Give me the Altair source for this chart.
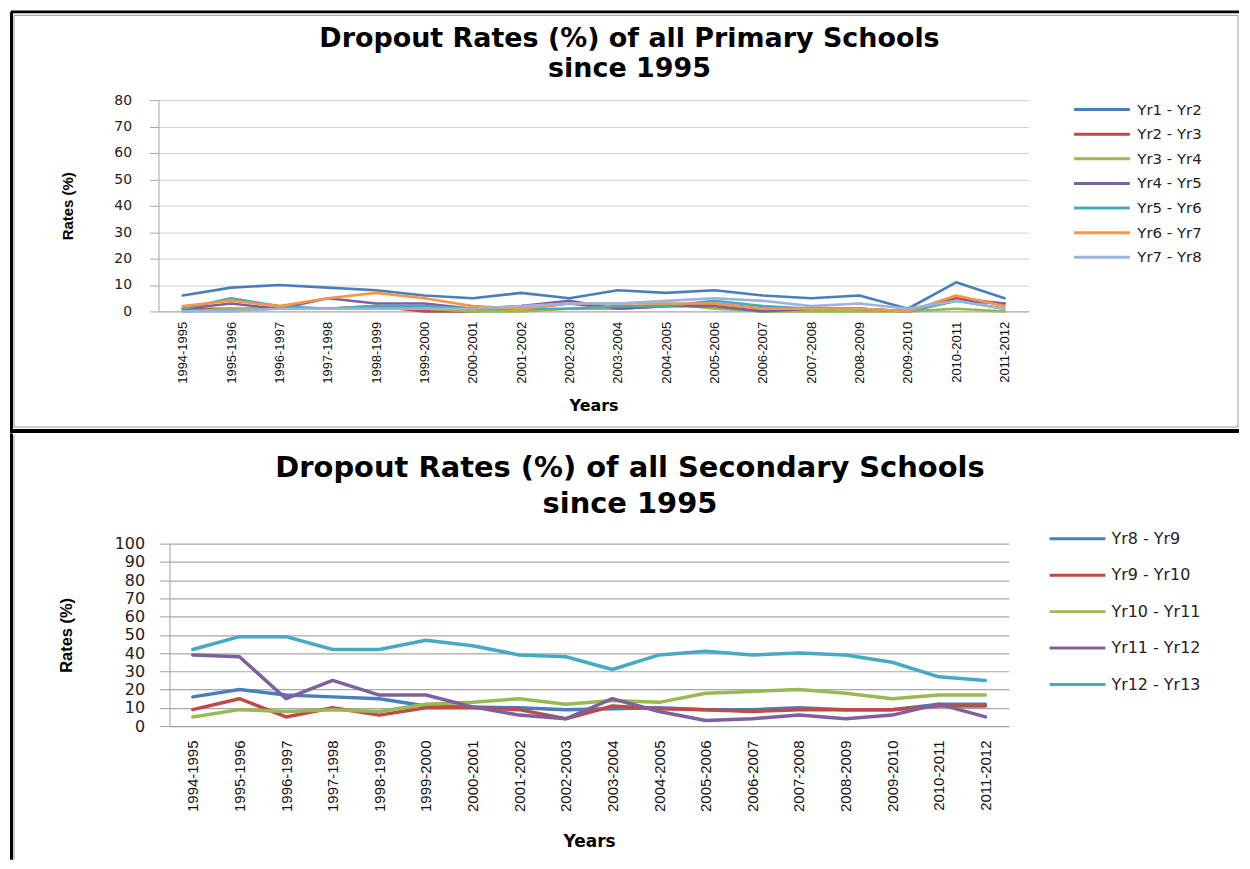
import altair as alt
import pandas as pd

years = ["1994-1995", "1995-1996", "1996-1997", "1997-1998", "1998-1999", "1999-2000",
         "2000-2001", "2001-2002", "2002-2003", "2003-2004", "2004-2005", "2005-2006",
         "2006-2007", "2007-2008", "2008-2009", "2009-2010", "2010-2011", "2011-2012"]

# Primary schools
primary_series = ["Yr1 - Yr2", "Yr2 - Yr3", "Yr3 - Yr4", "Yr4 - Yr5", "Yr5 - Yr6", "Yr6 - Yr7", "Yr7 - Yr8"]
yr1_yr2 = [6, 9, 10, 9, 8, 6, 5, 7, 5, 8, 7, 8, 6, 5, 6, 1, 11, 5]
yr2_yr3 = [1, 1, 1, 1, 2, 0, 0, 1, 3, 1, 2, 3, 1, 1, 1, 0, 5, 3]
yr3_yr4 = [0, 1, 1, 1, 2, 1, 0, 0, 1, 1, 3, 1, 0, 0, 0, 0, 1, 0]
yr4_yr5 = [1, 3, 1, 5, 3, 3, 1, 2, 4, 1, 2, 2, 0, 1, 1, 0, 4, 3]
yr5_yr6 = [1, 5, 2, 1, 2, 2, 1, 1, 1, 2, 2, 4, 2, 1, 1, 0, 4, 1]
yr6_yr7 = [2, 4, 2, 5, 7, 5, 2, 1, 3, 3, 3, 3, 1, 1, 1, 0, 6, 2]
yr7_yr8 = [0, 0, 1, 1, 1, 1, 1, 2, 3, 3, 4, 5, 4, 2, 3, 1, 4, 1]
primary_values = [yr1_yr2, yr2_yr3, yr3_yr4, yr4_yr5, yr5_yr6, yr6_yr7, yr7_yr8]
primary_colors = ["#4A7EBB", "#BE4B48", "#98B954", "#7D60A0", "#46AAC5", "#F79646", "#9BB4DD"]

# Secondary schools
secondary_series = ["Yr8 - Yr9", "Yr9 - Yr10", "Yr10 - Yr11", "Yr11 - Yr12", "Yr12 - Yr13"]
yr8_yr9 = [16, 20, 17, 16, 15, 11, 10.5, 10, 9, 9.5, 10, 9, 9, 10, 9, 9, 12, 12]
yr9_yr10 = [9, 15, 5, 10, 6, 10, 10, 9, 4, 11, 9.5, 9, 8, 9, 9, 9, 11, 11]
yr10_yr11 = [5, 9, 8, 9, 8, 12, 13, 15, 12, 14, 13, 18, 19, 20, 18, 15, 17, 17]
yr11_yr12 = [39, 38, 15, 25, 17, 17, 10.5, 6, 4, 15, 8, 3, 4, 6, 4, 6, 12, 5]
yr12_yr13 = [42, 49, 49, 42, 42, 47, 44, 39, 38, 31, 39, 41, 39, 40, 39, 35, 27, 25]
secondary_values = [yr8_yr9, yr9_yr10, yr10_yr11, yr11_yr12, yr12_yr13]
secondary_colors = ["#4A7EBB", "#BE4B48", "#98B954", "#7D60A0", "#46AAC5"]


def long_table(series, values):
    rows = []
    for name, vals in zip(series, values):
        for yr, v in zip(years, vals):
            rows.append({"Year": yr, "Rate": v, "Series": name})
    return pd.DataFrame(rows)


df_p = long_table(primary_series, primary_values)
df_s = long_table(secondary_series, secondary_values)
one = pd.DataFrame({"k": [0]})

# ---------- top panel ----------
top_lines = alt.Chart(df_p).mark_line(strokeWidth=2.6, strokeCap="round", strokeJoin="round").encode(
    x=alt.X("Year:N", sort=years, axis=alt.Axis(
        title="Years", titleFont="DejaVu Sans", titleFontSize=16, titleFontWeight="bold",
        titleColor="black", titlePadding=14,
        labelAngle=270, labelFont="Liberation Sans", labelFontSize=13, labelColor="#111",
        labelPadding=10, ticks=False, domainColor="#A6A6A6", labelOverlap=False,
    )),
    y=alt.Y("Rate:Q", scale=alt.Scale(domain=[0, 80], nice=False), axis=alt.Axis(
        values=list(range(0, 81, 10)), format="d",
        title="Rates (%)", titleFont="Liberation Sans", titleFontSize=15, titleFontWeight="bold",
        titleColor="black", titlePadding=38,
        labelFont="DejaVu Sans", labelFontSize=14, labelColor="#222", labelPadding=18,
        tickSize=9, tickColor="#A6A6A6", domainColor="#A6A6A6", gridColor="#CFCFCF",
    )),
    color=alt.Color("Series:N", sort=primary_series,
                    scale=alt.Scale(domain=primary_series, range=primary_colors),
                    legend=alt.Legend(
                        title=None, orient="none", legendX=939, legendY=2,
                        symbolType="M-5.6,0L5.6,0", symbolSize=100, symbolStrokeWidth=3,
                        labelFont="DejaVu Sans", labelFontSize=15, labelColor="#222",
                        labelOffset=28, rowPadding=8.7,
                    )),
)

# chart-area frame of the top panel (decoration only)
top_inner = alt.Chart(one).mark_rect(fillOpacity=0, stroke="#9A9A9A", strokeWidth=1).encode(
    x=alt.value(-145), x2=alt.value(1083), y=alt.value(-85), y2=alt.value(328))
top_edge = alt.Chart(one).mark_rule(color="black", strokeWidth=3).encode(
    x=alt.value(-148), x2=alt.value(1084), y=alt.value(-88.5))
top_left = alt.Chart(one).mark_rule(color="black", strokeWidth=3).encode(
    x=alt.value(-147.5), y=alt.value(-88.5), y2=alt.value(334))
separator = alt.Chart(one).mark_rule(color="black", strokeWidth=4).encode(
    x=alt.value(-148), x2=alt.value(1084), y=alt.value(332))

top = alt.layer(
    top_lines, top_inner, top_edge, top_left, separator,
    title=alt.Title(
        text=["Dropout Rates (%) of all Primary Schools", "since 1995"],
        font="DejaVu Sans", fontSize=27, fontWeight="bold", color="black",
        anchor="middle", dx=36, dy=81, offset=8, lineHeight=30,
    ),
).properties(width=873, height=212)

# ---------- bottom panel ----------
bottom_lines = alt.Chart(df_s).mark_line(strokeWidth=3.5, strokeCap="round", strokeJoin="round").encode(
    x=alt.X("Year:N", sort=years, axis=alt.Axis(
        title="Years", titleFont="DejaVu Sans", titleFontSize=17, titleFontWeight="bold",
        titleColor="black", titlePadding=22,
        labelAngle=270, labelFont="Liberation Sans", labelFontSize=15, labelColor="#111",
        labelPadding=14, ticks=False, domainColor="#A0A0A0", labelOverlap=False,
    )),
    y=alt.Y("Rate:Q", scale=alt.Scale(domain=[0, 100], nice=False), axis=alt.Axis(
        values=list(range(0, 101, 10)), format="d",
        title="Rates (%)", titleFont="Liberation Sans", titleFontSize=16.5, titleFontWeight="bold",
        titleColor="black", titlePadding=40,
        labelFont="DejaVu Sans", labelFontSize=16, labelColor="#222", labelPadding=15,
        tickSize=10, tickColor="#A0A0A0", domainColor="#A0A0A0", gridColor="#A8A8A8",
        gridWidth=1.2,
    )),
    color=alt.Color("Series:N", sort=secondary_series,
                    scale=alt.Scale(domain=secondary_series, range=secondary_colors),
                    legend=alt.Legend(
                        title=None, orient="none", legendX=903, legendY=-13,
                        symbolType="M-5.6,0L5.6,0", symbolSize=100, symbolStrokeWidth=3,
                        labelFont="DejaVu Sans", labelFontSize=16, labelColor="#222",
                        labelOffset=26, rowPadding=20.6,
                    )),
)

bottom_left = alt.Chart(one).mark_rule(color="black", strokeWidth=3).encode(
    x=alt.value(-158.5), y=alt.value(-110.5), y2=alt.value(317))
bottom_inner = alt.Chart(one).mark_rule(color="#9A9A9A", strokeWidth=1).encode(
    x=alt.value(-156), y=alt.value(-109), y2=alt.value(317))

bottom = alt.layer(
    bottom_lines, bottom_left, bottom_inner,
    title=alt.Title(
        text=["Dropout Rates (%) of all Secondary Schools", "since 1995"],
        font="DejaVu Sans", fontSize=29, fontWeight="bold", color="black",
        anchor="middle", dx=41, dy=98, offset=11, lineHeight=36,
    ),
).properties(width=842, height=183)

spacer = alt.Chart(one).mark_point(opacity=0).encode(
    x=alt.value(0), y=alt.value(0)
).properties(width=1, height=1)

bottom_row = alt.hconcat(spacer, bottom, spacing=10, bounds="flush").resolve_scale(
    x="independent", y="independent", color="independent")

chart = alt.vconcat(top, bottom_row, spacing=-4).resolve_scale(
    x="independent", y="independent", color="independent"
).properties(
    padding={"left": 0, "top": 0, "right": 0, "bottom": 0}
).configure_view(stroke="transparent")

chart.save("out.html", embed_options={"renderer": "svg", "actions": False})
